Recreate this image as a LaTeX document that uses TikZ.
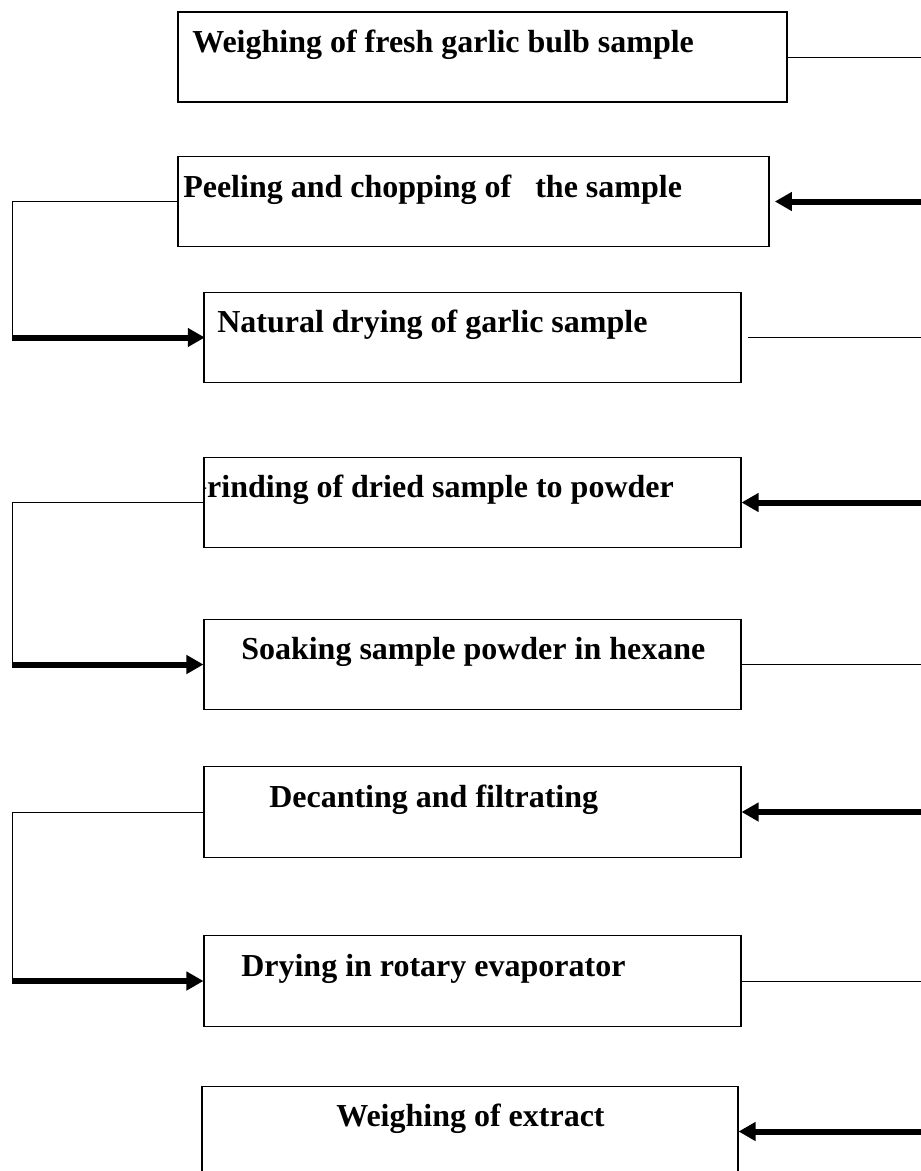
\documentclass[tikz,border=0pt]{standalone}
\usepackage{fontspec}
\setmainfont{Liberation Serif}
\usetikzlibrary{arrows.meta}

\begin{document}
\begin{tikzpicture}[x=0.75pt,y=-0.75pt,
  box/.style={draw, line width=0.8pt, inner sep=0pt, minimum width=402.75pt, minimum height=68pt},
  lab/.style={anchor=base west, inner sep=0pt, font=\bfseries\fontsize{24}{28}\selectfont},
  link/.style={-, line width=0.75pt},
  flow/.style={-{Triangle[length=12.75pt,width=13.5pt]}, line width=4.5pt}]
\clip (0,0) rectangle (921,1171);
%\draw [help lines, step=100] (0,0) grid (921,1171);

% boxes
\node[box, minimum width=456.75pt, minimum height=67.5pt] (P1) at (482.5,57) {};
\node[box, minimum width=443.25pt] (P2) at (473.5,201.5) {};
\node[box] (P3) at (472.5,337.5) {};
\node[box] (P4) at (472.5,502.5) {};
\node[box] (P5) at (472.5,664.5) {};
\node[box] (P6) at (472.5,812) {};
\node[box] (P7) at (472.5,981) {};
\node[box, minimum width=402pt] (P8) at (470,1131.5) {};

% texts
\node[lab] (L1) at (192,52) {Weighing of fresh garlic bulb sample};
\node[lab] (L2) at (183,197) {Peeling and chopping of\ \ \ the sample};
\node[lab] (L3) at (217,332) {Natural drying of garlic sample};
\begin{scope}
\clip (P4.south west) rectangle (P4.north east);
\node[lab] (L4) at (182,497) {Grinding of dried sample to powder};
\end{scope}
\node[lab] (L5) at (241,659) {Soaking sample powder in hexane};
\node[lab] (L6) at (269,807) {Decanting and filtrating};
\node[lab] (L7) at (241,976) {Drying in rotary evaporator};
\node[lab] (L8) at (336,1126) {Weighing of extract};

% right ends
\coordinate (R1) at (921,57);
\coordinate (R2) at (921,201.5);
\coordinate (R3) at (921,337.5);
\coordinate (R4) at (921,502.5);
\coordinate (R5) at (921,664.5);
\coordinate (R6) at (921,812);
\coordinate (R7) at (921,981);
\coordinate (R8) at (921,1131.5);

% left corners
\coordinate (C1) at (12,201.5);
\coordinate (C2) at (12,337.5);
\coordinate (C3) at (12,502.5);
\coordinate (C4) at (12,664.5);
\coordinate (C5) at (12,812);
\coordinate (C6) at (12,981);

\path
% out to the right
(P1) edge [link] (R1)
(P3) edge [link, shorten <=5pt] (R3)
(P5) edge [link] (R5)
(P7) edge [link] (R7)

% back in from the right
(R2) edge [flow, shorten >=4pt] (P2)
(R4) edge [flow] (P4)
(R6) edge [flow] (P6)
(R8) edge [flow] (P8)

% round the left side
(P2) edge [link] (C1)
(C1) edge [link] (C2)
(C2) edge [flow, shorten >=-1pt] (P3)

(P4) edge [link] (C3)
(C3) edge [link] (C4)
(C4) edge [flow] (P5)

(P6) edge [link] (C5)
(C5) edge [link] (C6)
(C6) edge [flow] (P7);

\end{tikzpicture}
\end{document}
